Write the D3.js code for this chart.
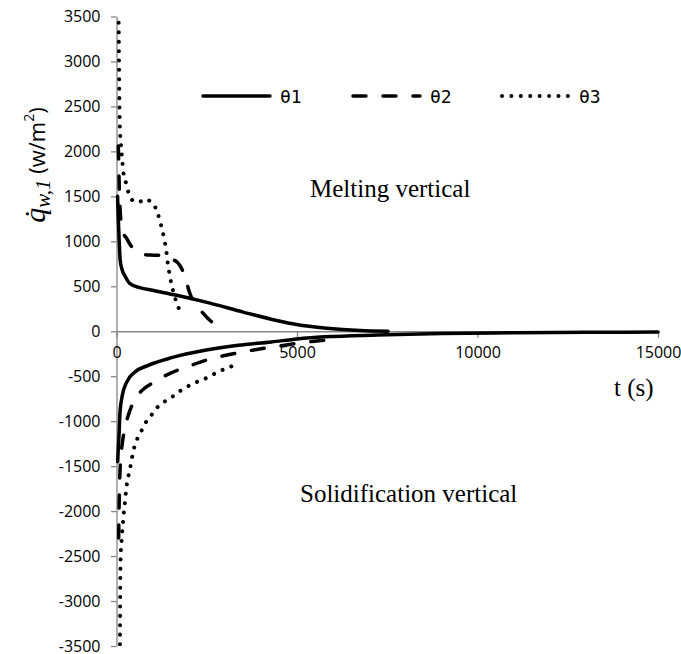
<!DOCTYPE html>
<html>
<head>
<meta charset="utf-8">
<script src="https://cdn.jsdelivr.net/npm/d3@7"></script>
<style>
  body { margin: 0; background: #fff; }
  .tick-label { font-family: "Open Sans", sans-serif; font-size: 16px; fill: #000; }
  .note { font-family: "Liberation Serif", "Times New Roman", serif; font-size: 25px; fill: #000; }
  .legend-label { font-family: "DejaVu Sans Mono", monospace; font-size: 18px; fill: #000; }
</style>
</head>
<body>
<div id="chart"></div>
<script>
// melting, vertical wall
const meltT1 = [30, 50, 75, 100, 150, 235, 374, 650, 1000, 1665, 2588, 3510, 4434, 4988, 5818, 6740, 7523];
const meltQ1 = [1500, 1250, 1000, 800, 690, 615, 530, 485, 455, 400, 313, 213, 120, 75, 34, 8, 0];
const meltT2 = [50, 65, 80, 100, 130, 180, 282, 400, 512, 700, 927, 1150, 1389, 1550, 1700, 1800, 1896, 2034, 2219, 2400, 2541, 2700, 2865];
const meltQ2 = [2060, 1800, 1550, 1350, 1200, 1100, 1033, 950, 903, 860, 847, 845, 835, 800, 760, 700, 604, 418, 287, 200, 139, 85, 45];
const meltT3 = [60, 70, 80, 95, 120, 143, 188, 254, 309, 401, 500, 604, 700, 816, 920, 1019, 1130, 1204, 1268, 1323, 1370, 1434, 1480, 1527, 1600, 1665, 1776];
const meltQ3 = [3430, 3000, 2600, 2250, 2100, 1981, 1776, 1665, 1572, 1475, 1445, 1435, 1450, 1472, 1450, 1416, 1323, 1226, 1126, 1026, 922, 717, 615, 511, 410, 313, 224];

// solidification, vertical wall
const solT1 = [33, 50, 69, 97, 161, 282, 512, 880, 1527, 2449, 3371, 4295, 5000, 6000, 7500, 9000, 11000, 13000, 15000];
const solQ1 = [-1450, -1300, -1160, -900, -713, -565, -453, -379, -294, -212, -156, -119, -85, -58, -38, -26, -17, -12, -8];
const solT2 = [60, 70, 85, 110, 160, 230, 330, 480, 700, 1000, 1500, 2000, 2500, 3000, 3500, 4000, 4500, 5000, 5500, 5900];
const solQ2 = [-2300, -2000, -1700, -1450, -1250, -1080, -930, -780, -660, -575, -465, -390, -320, -270, -230, -195, -165, -135, -110, -95];
const solT3 = [97, 100, 105, 115, 143, 188, 235, 290, 370, 437, 493, 576, 697, 816, 974, 1157, 1342, 1573, 1785, 1988, 2219, 2449, 2680, 2911, 3141, 3371];
const solQ3 = [-3480, -3100, -2800, -2516, -2311, -2088, -1892, -1691, -1540, -1390, -1290, -1196, -1104, -1011, -929, -835, -780, -721, -658, -610, -565, -528, -479, -435, -398, -360];

const seriesNames = ["θ1", "θ2", "θ3"];
const xTicks = [0, 5000, 10000, 15000];
const yTicks = d3.range(-3500, 3501, 500);

const width = 681, height = 654;
const margin = { top: 16.5, right: 23, bottom: 8, left: 116.5 };

const svg = d3.select("#chart").append("svg")
    .attr("width", width)
    .attr("height", height);

const x = d3.scaleLinear().domain([0, 15000]).range([margin.left, width - margin.right]);
const y = d3.scaleLinear().domain([-3500, 3500]).range([height - margin.bottom, margin.top]);

const axisColor = "#868686";
const plain = d => String(d);   // Excel style hyphen, not the unicode minus

// y axis
const yAxis = svg.append("g")
    .attr("transform", `translate(${x(0)},0)`)
    .call(d3.axisLeft(y).tickValues(yTicks).tickSize(5.5).tickSizeOuter(0).tickFormat(plain));
yAxis.select(".domain").attr("stroke", axisColor).attr("stroke-width", 1.3);
yAxis.selectAll(".tick line").attr("stroke", axisColor).attr("stroke-width", 1.3);
yAxis.selectAll(".tick text").attr("class", "tick-label").attr("x", -16).attr("dy", "0.34em");

// x axis on the zero line
const xAxis = svg.append("g")
    .attr("transform", `translate(0,${y(0)})`)
    .call(d3.axisBottom(x).tickValues(xTicks).tickSize(6.5).tickSizeOuter(0).tickFormat(plain));
xAxis.select(".domain").attr("stroke", axisColor).attr("stroke-width", 1.3);
xAxis.selectAll(".tick line").attr("stroke", axisColor).attr("stroke-width", 1.3);
xAxis.selectAll(".tick text").attr("class", "tick-label").attr("y", 15).attr("dy", "0.71em");

const styles = [
    { dash: null },
    { dash: "13,17" },
    { dash: "0.01,9.4" }
];

const line = d3.line()
    .x(d => x(d[0]))
    .y(d => y(d[1]))
    .curve(d3.curveMonotoneX);

const series = [
    { t: meltT1, q: meltQ1, s: 0 },
    { t: meltT2, q: meltQ2, s: 1 },
    { t: meltT3, q: meltQ3, s: 2 },
    { t: solT1, q: solQ1, s: 0 },
    { t: solT2, q: solQ2, s: 1 },
    { t: solT3, q: solQ3, s: 2 }
];

svg.append("g")
    .selectAll("path")
    .data(series)
    .enter().append("path")
    .attr("d", d => line(d.t.map((t, i) => [t, d.q[i]])))
    .attr("fill", "none")
    .attr("stroke", "#000")
    .attr("stroke-width", d => d.s === 2 ? 4 : 3.5)
    .attr("stroke-linecap", "round")
    .attr("stroke-linejoin", "round")
    .attr("stroke-dasharray", d => styles[d.s].dash);

// legend
const legendX = [203, 353, 502];
const legend = svg.append("g");
seriesNames.forEach((name, i) => {
    legend.append("line")
        .attr("x1", legendX[i]).attr("x2", legendX[i] + 67)
        .attr("y1", 96).attr("y2", 96)
        .attr("stroke", "#000")
        .attr("stroke-width", i === 2 ? 4 : 3.5)
        .attr("stroke-linecap", "round")
        .attr("stroke-dasharray", styles[i].dash);
    legend.append("text")
        .attr("class", "legend-label")
        .attr("x", legendX[i] + 77)
        .attr("y", 102.5)
        .text(name);
});

// notes
svg.append("text").attr("class", "note").attr("x", 310).attr("y", 197).text("Melting vertical");
svg.append("text").attr("class", "note").attr("x", 300).attr("y", 502).text("Solidification vertical");
svg.append("text").attr("class", "note").attr("x", 614).attr("y", 396).text("t (s)");

// y axis title
const yTitle = svg.append("text")
    .attr("transform", "translate(45,165) rotate(-90)")
    .attr("text-anchor", "middle")
    .attr("fill", "#000");
yTitle.append("tspan")
    .attr("font-family", "'Liberation Serif', serif")
    .attr("font-style", "italic")
    .attr("font-size", 30)
    .text("q\u0307");
yTitle.append("tspan")
    .attr("font-family", "'Liberation Serif', serif")
    .attr("font-style", "italic")
    .attr("font-size", 21)
    .attr("dy", 5)
    .text("w,1");
yTitle.append("tspan")
    .attr("font-family", "'Open Sans', sans-serif")
    .attr("font-size", 22)
    .attr("dy", -5)
    .text(" (w/m");
yTitle.append("tspan")
    .attr("font-family", "'Open Sans', sans-serif")
    .attr("font-size", 14)
    .attr("dy", -11)
    .text("2");
yTitle.append("tspan")
    .attr("font-family", "'Open Sans', sans-serif")
    .attr("font-size", 22)
    .attr("dy", 11)
    .text(")");
</script>
</body>
</html>
